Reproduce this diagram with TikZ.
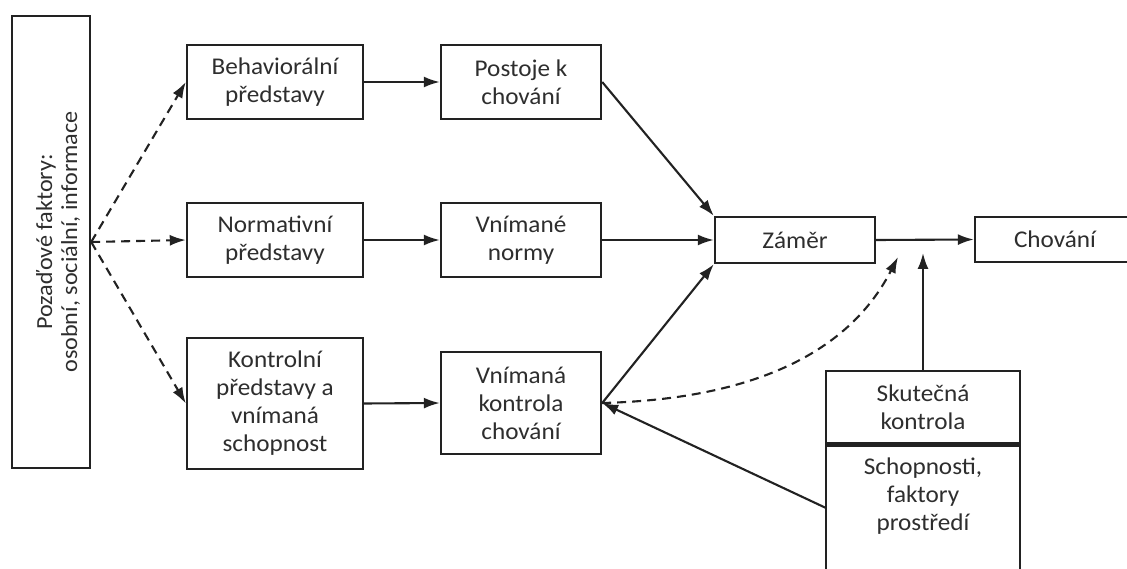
\documentclass[tikz,border=0pt]{standalone}
\usepackage{fontspec}
\setmainfont{Carlito}[FakeStretch=1.05]
\usetikzlibrary{arrows.meta}
\definecolor{linec}{HTML}{222222}
\definecolor{textc}{HTML}{2E2E2E}
\begin{document}
\begin{tikzpicture}[x=1pt,y=-1pt,
  box/.style={draw=linec, line width=2.4pt, fill=white, align=center, inner sep=0pt,
    font=\fontsize{24}{28}\selectfont, text=textc},
  lbl/.style={align=center, inner sep=0pt, font=\fontsize{24}{28}\selectfont, text=textc},
  arr/.style={line width=2.1pt, draw=linec, -{Latex[length=16pt,width=11pt]}},
  darr/.style={arr, dash pattern=on 9pt off 6pt},
]
\useasboundingbox (0,0) rectangle (1127,569);
\fill[white] (0,0) rectangle (1127,569);
\clip (0,0) rectangle (1127,569);

% background factors
\node[box, minimum width=78pt, minimum height=452pt] (bg) at (51,242) {};
\node[lbl, rotate=90, font=\fontsize{23}{25}\selectfont] (bgtext) at (58,242) {Pozaďové faktory:\\osobní, sociální, informace};

% beliefs column
\node[box, minimum width=176pt, minimum height=74pt] (behav) at (275,82) {Behaviorální\\představy};
\node[box, minimum width=176pt, minimum height=74pt] (norm) at (275,240) {Normativní\\představy};
\node[box, minimum width=176pt, minimum height=131pt] (kontr) at (275,403.5) {Kontrolní\\představy a\\vnímaná\\schopnost};

% second column
\node[box, minimum width=160pt, minimum height=74pt] (post) at (521,82) {Postoje k\\chování};
\node[box, minimum width=160pt, minimum height=74pt] (vnorm) at (521,240) {Vnímané\\normy};
\node[box, minimum width=160pt, minimum height=102pt] (vkon) at (521,403) {Vnímaná\\kontrola\\chování};

% intention and behaviour
\node[box, minimum width=160pt, minimum height=46pt] (zamer) at (795,240) {Záměr};
\node[box, minimum width=160pt, minimum height=45pt] (chov) at (1055,239.5) {Chování};

% actual control
\node[box, minimum width=194pt, minimum height=72pt] (skut) at (923,407) {Skutečná\\kontrola};
\node[box, anchor=north, minimum width=194pt, minimum height=170pt] (schopbox) at (skut.south) {};
\node[lbl] (schoptext) at (923,496) {Schopnosti,\\faktory\\prostředí};

\coordinate (dtip) at (898,257);
\coordinate (stip) at (923,253);
\coordinate (sstart) at (826,508);

% dashed arrows from background factors
\draw[darr] (bg.east) -- (behav.west);
\draw[darr] (bg.east) -- (norm.west);
\draw[darr] (bg.east) -- (kontr.west);

% solid arrows
\draw[arr] (behav.east) -- (post.west);
\draw[arr] (norm.east) -- (vnorm.west);
\draw[arr] (kontr.east) -- (vkon.west);
\draw[arr] (post.east) -- (zamer.north west);
\draw[arr] (vnorm.east) -- (zamer.west);
\draw[arr] (vkon.east) -- (zamer.south west);
\draw[arr] (zamer.east) -- (chov.west);
\draw[arr] (skut.north) -- (stip);
\draw[arr] (sstart) -- (vkon.east);
\draw[darr] (vkon.east) .. controls (720,400) and (840,370) .. (dtip);
\end{tikzpicture}
\end{document}
